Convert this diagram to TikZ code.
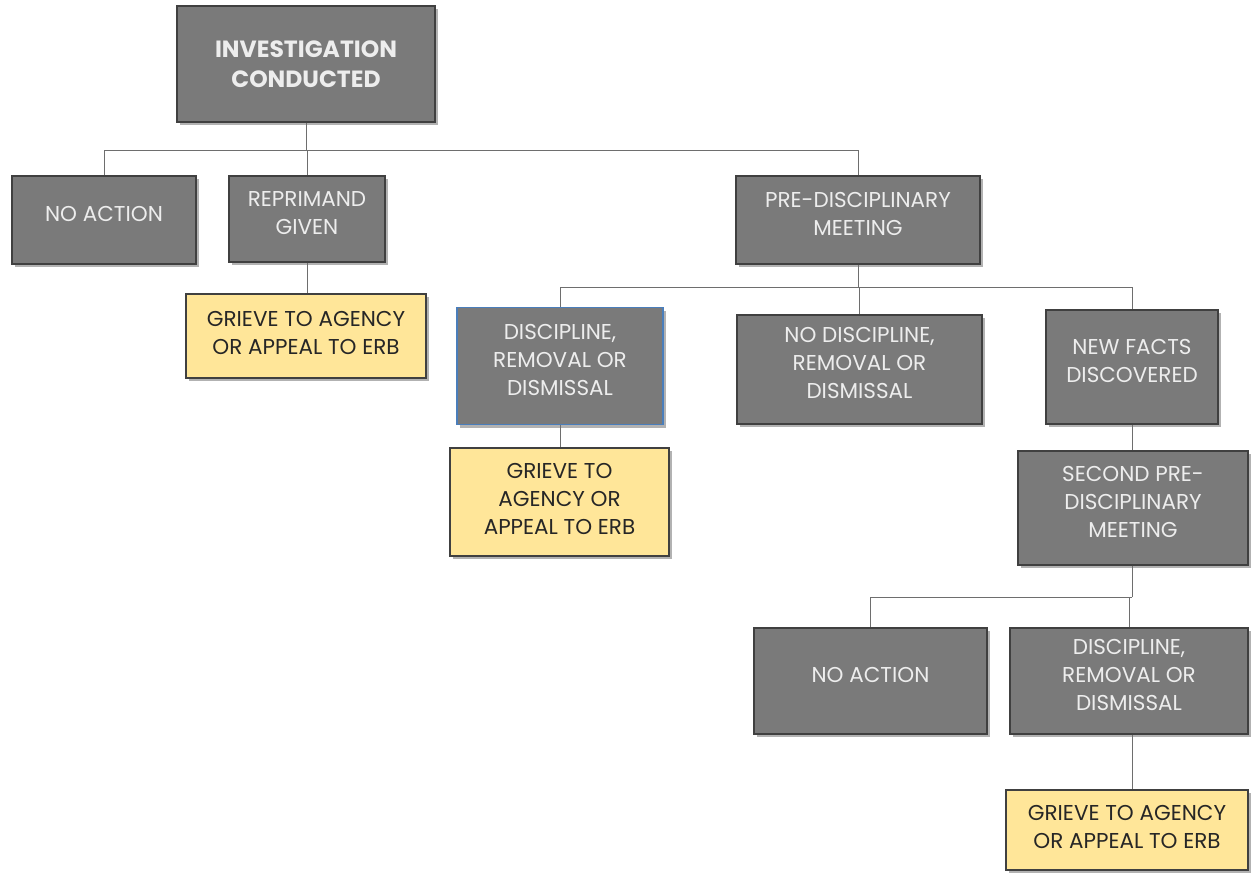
\documentclass[tikz,border=0pt]{standalone}
\usepackage{fontspec}
\setmainfont{Poppins}
\usetikzlibrary{shadows}

\definecolor{boxgray}{RGB}{122,122,122}
\definecolor{edgegray}{RGB}{64,64,64}
\definecolor{paleyellow}{RGB}{255,230,153}
\definecolor{linegray}{RGB}{110,110,110}
\definecolor{edgeblue}{RGB}{74,126,187}

\tikzset{
  stepbox/.style={draw=edgegray, line width=1.2pt, fill=boxgray, text=white!93!black,
    align=center, inner sep=2pt, font=\fontsize{21.5}{28}\selectfont, text depth=13pt,
    drop shadow={shadow xshift=3pt, shadow yshift=-3pt, opacity=.3, fill=black}},
  grievebox/.style={stepbox, fill=paleyellow, text=black!85, text depth=7pt},
  link/.style={draw=linegray, line width=0.9pt}
}

\begin{document}
\begin{tikzpicture}[x=1pt,y=-1pt]
  \useasboundingbox (0,0) rectangle (1253,873);

  % top level
  \node[stepbox, minimum width=258pt, minimum height=116pt, text depth=0pt,
        font=\fontsize{23.5}{30}\selectfont\bfseries] (invest) at (306,64) {INVESTIGATION\\CONDUCTED};

  \node[stepbox, minimum width=184pt, minimum height=88pt] (noaction) at (104,220) {NO ACTION};
  \node[stepbox, minimum width=156pt, minimum height=86pt] (reprimand) at (307,219) {REPRIMAND\\GIVEN};
  \node[stepbox, minimum width=244pt, minimum height=88pt] (predisc) at (858,220) {PRE-DISCIPLINARY\\MEETING};

  \node[grievebox, minimum width=240pt, minimum height=84pt] (grieveA) at (306,336) {GRIEVE TO AGENCY\\OR APPEAL TO ERB};

  % after the meeting
  \node[stepbox, draw=edgeblue, minimum width=206pt, minimum height=117pt] (discA) at (560,366) {DISCIPLINE,\\REMOVAL OR\\DISMISSAL};
  \node[stepbox, minimum width=245pt, minimum height=109pt] (nodisc) at (859.5,369.5) {NO DISCIPLINE,\\REMOVAL OR\\DISMISSAL};
  \node[stepbox, minimum width=172pt, minimum height=114pt] (newfacts) at (1132,367) {NEW FACTS\\DISCOVERED};

  \node[grievebox, minimum width=219pt, minimum height=108pt] (grieveB) at (559.5,502) {GRIEVE TO\\AGENCY OR\\APPEAL TO ERB};
  \node[stepbox, minimum width=230pt, minimum height=114pt] (second) at (1133,508) {SECOND PRE-\\DISCIPLINARY\\MEETING};

  % second meeting
  \node[stepbox, minimum width=233pt, minimum height=106pt] (noaction2) at (870.5,681) {NO ACTION};
  \node[stepbox, minimum width=238pt, minimum height=106pt] (discB) at (1129,681) {DISCIPLINE,\\REMOVAL OR\\DISMISSAL};
  \node[grievebox, minimum width=242pt, minimum height=80pt] (grieveC) at (1127,830) {GRIEVE TO AGENCY\\OR APPEAL TO ERB};

  \coordinate (split1) at (306,150);
  \coordinate (split2) at (858,287);
  \coordinate (split3) at (1132,597);

  \draw[link] (invest.south) -- (split1);
  \foreach \n in {noaction,reprimand,predisc}
    \draw[link] (split1) -| (\n.north);

  \draw[link] (predisc.south) -- (split2);
  \foreach \n in {discA,nodisc,newfacts}
    \draw[link] (split2) -| (\n.north);

  \draw[link] (second.south -| split3) -- (split3);
  \foreach \n in {noaction2,discB}
    \draw[link] (split3) -| (\n.north);

  \draw[link] (reprimand.south) -- (grieveA.north -| reprimand.south);
  \draw[link] (discA.south) -- (grieveB.north -| discA.south);
  \draw[link] (newfacts.south) -- (second.north -| newfacts.south);
  \draw[link] (discB.south -| split3) -- (grieveC.north -| split3);
\end{tikzpicture}
\end{document}
